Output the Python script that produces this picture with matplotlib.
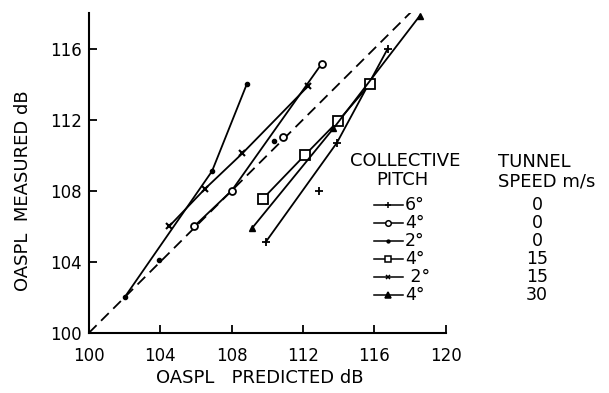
import numpy as np
import matplotlib
matplotlib.use('Agg')
import matplotlib.pyplot as plt

# OASPL measured vs predicted, one series per collective pitch / tunnel speed
p6_0_x = [109.9, 113.9, 116.75]
p6_0_y = [105.1, 110.7, 116.0]
p6_0_extra_x = [112.9]
p6_0_extra_y = [108.0]

p4_0_x = [105.9, 108.0, 113.05]
p4_0_y = [106.0, 108.0, 115.15]
p4_0_extra_x = [110.9]
p4_0_extra_y = [111.0]

p2_0_x = [102.0, 106.9, 108.85]
p2_0_y = [102.0, 109.1, 114.0]
p2_0_extra_x = [103.9, 110.4]
p2_0_extra_y = [104.1, 110.8]

p4_15_x = [109.75, 112.1, 113.95, 115.75]
p4_15_y = [107.55, 110.0, 111.9, 114.0]

p2_15_x = [104.5, 106.5, 108.6, 112.3]
p2_15_y = [106.0, 108.1, 110.1, 113.9]

p4_30_x = [109.15, 113.7, 118.55]
p4_30_y = [105.9, 111.5, 117.85]

pitch_labels = ['6°', '4°', '2°', '4°', ' 2°', '4°']
speed_labels = ['0', '0', '0', '15', '15', '30']
legend_markers = ['+', 'o', '.', 's', 'x', '^']

x_ticks = [100, 104, 108, 112, 116, 120]
y_ticks = [100, 104, 108, 112, 116]
diag = [100, 118.4]

fig = plt.figure(figsize=(6.09, 3.93), dpi=100)
ax = fig.add_axes([0.146, 0.153, 0.586, 0.814])

ax.plot(diag, diag, color='k', lw=1.3, linestyle=(0, (6, 3.5)))

lw = 1.3
styles = [
    (p6_0_x, p6_0_y, '+', dict(ms=6, mew=1.3)),
    (p4_0_x, p4_0_y, 'o', dict(ms=5, mfc='white', mew=1.3)),
    (p2_0_x, p2_0_y, '.', dict(ms=6)),
    (p4_15_x, p4_15_y, 's', dict(ms=6.5, mfc='white', mew=1.3)),
    (p2_15_x, p2_15_y, 'x', dict(ms=4, mew=1.5)),
    (p4_30_x, p4_30_y, '^', dict(ms=4.5)),
]
for x, y, m, kw in styles:
    ax.plot(x, y, color='k', lw=lw, marker=m, **kw, clip_on=False, zorder=3)

ax.plot(p6_0_extra_x, p6_0_extra_y, '+', color='k', ms=6, mew=1.3, ls='none')
ax.plot(p4_0_extra_x, p4_0_extra_y, 'o', color='k', ms=5, mfc='white', mew=1.3, ls='none', zorder=3)
ax.plot(p2_0_extra_x, p2_0_extra_y, '.', color='k', ms=6, ls='none')

ax.set_xlim(100, 120)
ax.set_ylim(100, 118)
ax.set_xticks(x_ticks)
ax.set_yticks(y_ticks)
ax.spines['top'].set_visible(False)
ax.spines['right'].set_visible(False)
for s in ['left', 'bottom']:
    ax.spines[s].set_linewidth(1.5)
ax.tick_params(direction='in', length=6, width=1.3, labelsize=12)
ax.tick_params(axis='x', pad=10)
ax.tick_params(axis='y', pad=5)

fig.text(0.038, 0.515, 'OASPL  MEASURED dB', rotation=90, ha='center', va='center', fontsize=13)
fig.text(0.427, 0.038, 'OASPL   PREDICTED dB', ha='center', va='center', fontsize=13)

# legend block, drawn in figure pixels
W, H = 609, 393
def fx(px):
    return px / W
def fy(py):
    return 1 - py / H

fig.text(fx(405), fy(161), 'COLLECTIVE', ha='center', va='center', fontsize=13)
fig.text(fx(402), fy(180), 'PITCH', ha='center', va='center', fontsize=13)
fig.text(fx(498), fy(162), 'TUNNEL', ha='left', va='center', fontsize=13)
fig.text(fx(498), fy(181), 'SPEED m/s', ha='left', va='center', fontsize=13)

row_y = [205, 223, 241, 259, 277, 295]
for i, (lab, spd, m) in enumerate(zip(pitch_labels, speed_labels, legend_markers)):
    yy = fy(row_y[i])
    mfc = 'white' if m in ('o', 's') else 'k'
    ms = {'+': 5, 'o': 4, '.': 4, 's': 5, 'x': 3.5, '^': 4}[m]
    fig.add_artist(plt.Line2D([fx(374), fx(403)], [yy, yy], color='k', lw=1.1,
                              transform=fig.transFigure))
    fig.add_artist(plt.Line2D([fx(388)], [yy], color='k', marker=m, ms=ms, mfc=mfc,
                              mew=1.1, transform=fig.transFigure))
    fig.text(fx(405), yy, lab, ha='left', va='center', fontsize=12.5)
    fig.text(fx(537), yy, spd, ha='center', va='center', fontsize=12.5)

fig.savefig('out.png', dpi=100)
